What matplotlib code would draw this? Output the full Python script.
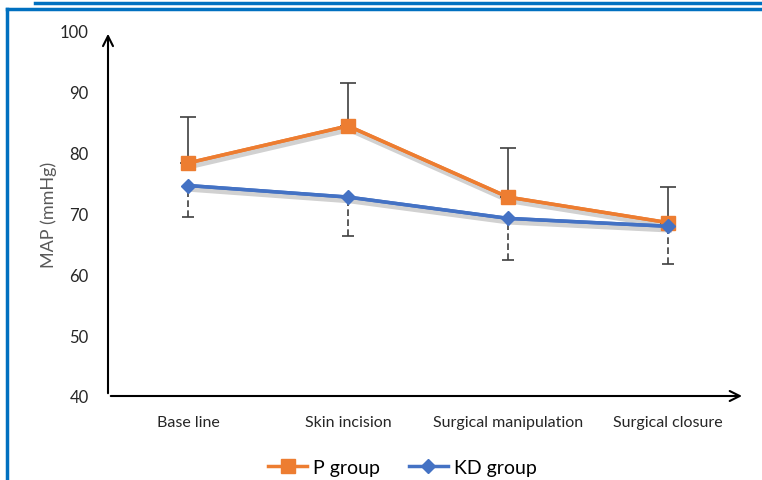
import matplotlib
matplotlib.use('Agg')
import matplotlib.pyplot as plt
import matplotlib.patheffects as pe
import numpy as np

# MAP readings per surgical stage
stages = ['Base line', 'Skin incision', 'Surgical manipulation', 'Surgical closure']
p_mean = [78.3, 84.4, 72.7, 68.5]
p_upper = [85.8, 91.4, 80.8, 74.4]
kd_mean = [74.6, 72.7, 69.2, 67.9]
kd_lower = [69.5, 66.3, 62.4, 61.7]

ORANGE = '#ed7d31'
BLUE = '#4472c4'
FRAME = '#0070c0'

plt.rcParams['font.family'] = ['Lato', 'DejaVu Sans']

fig = plt.figure(figsize=(7.62, 4.81), dpi=100)
ax = fig.add_axes([108 / 762, 84 / 481, 640 / 762, 365 / 481])

x = np.arange(len(stages))
shadow = [pe.SimpleLineShadow(offset=(1, -2.5), shadow_color='black', alpha=0.18, linewidth=4),
          pe.Normal()]

# error bars: P group upward (solid), KD group downward (dashed)
p_err = np.array(p_upper) - np.array(p_mean)
kd_err = np.array(kd_mean) - np.array(kd_lower)
ax.errorbar(x, p_mean, yerr=[np.zeros_like(p_err), p_err], fmt='none',
            ecolor='#404040', elinewidth=1.2, capsize=6, capthick=1.2, zorder=2)
eb2 = ax.errorbar(x, kd_mean, yerr=[kd_err, np.zeros_like(kd_err)], fmt='none',
                  ecolor='#404040', elinewidth=1.2, capsize=4, capthick=1.2, zorder=2)
for c in eb2[2]:
    c.set_linestyle((0, (4, 2)))

# soft shadow under the lines only
ax.plot(x, p_mean, color=ORANGE, lw=2.5, path_effects=shadow, zorder=3)
ax.plot(x, kd_mean, color=BLUE, lw=2.5, path_effects=shadow, zorder=3)
ax.plot(x, p_mean, color=ORANGE, lw=2.5, marker='s', ms=10, label='P group', zorder=4)
ax.plot(x, kd_mean, color=BLUE, lw=2.5, marker='D', ms=7, label='KD group', zorder=5)

ax.set_xlim(-0.5, 3.5)
ax.set_ylim(40, 100)
ax.set_yticks(range(40, 101, 10))
ax.set_xticks(x)
ax.set_xticklabels(stages)
ax.tick_params(length=0, labelsize=11.5, colors='#262626')
ax.tick_params(axis='x', pad=14)
ax.tick_params(axis='y', pad=14, labelsize=12)
for s in ax.spines.values():
    s.set_visible(False)

# axis lines with open arrow heads
ax.annotate('', xy=(0, 1.0), xytext=(0, 0), xycoords='axes fraction',
            arrowprops=dict(arrowstyle='->', lw=1.5, color='black', mutation_scale=18))
ax.annotate('', xy=(0.995, 0), xytext=(0, 0), xycoords='axes fraction',
            arrowprops=dict(arrowstyle='->', lw=1.5, color='black', mutation_scale=18))

ax.set_ylabel('MAP (mmHg)', fontsize=13, color='#595959', labelpad=2)

ax.legend(loc='upper center', bbox_to_anchor=(0.46, -0.125), ncol=2, frameon=False,
          fontsize=14, handlelength=2.0, columnspacing=1.5, handletextpad=0.3)

# blue frame lines around the chart
fig.add_artist(plt.Line2D([35 / 762, 1], [1 - 4 / 481, 1 - 4 / 481], color=FRAME, lw=2.5))
fig.add_artist(plt.Line2D([7 / 762, 1], [1 - 10 / 481, 1 - 10 / 481], color=FRAME, lw=2.5))
fig.add_artist(plt.Line2D([7 / 762, 7 / 762], [0, 1 - 10 / 481], color=FRAME, lw=2.5))

fig.savefig('out.png', dpi=100)
